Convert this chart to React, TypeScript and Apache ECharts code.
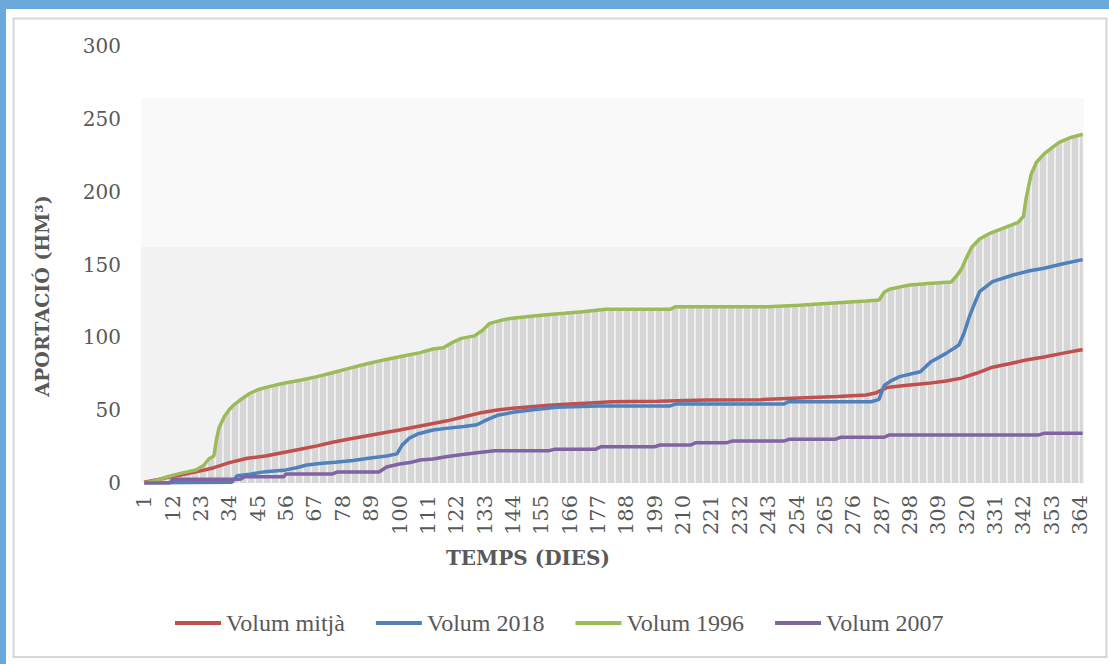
import React, { useEffect, useRef } from 'react';
import * as echarts from 'echarts';

// Category labels: days of the year
const days: string[] = Array.from({ length: 365 }, (_, i) => String(i + 1));

// [day, hm3]
const volumMitja: [number, number][] = [
  [1, 0.5], [8, 3], [15, 5.5], [22, 8], [28, 10.5], [34, 14], [41, 17], [48, 18.5], [55, 21], [61, 23],
  [68, 25.5], [74, 28], [80, 30], [87, 32.3], [94, 34.5], [100, 36.4], [106, 38.5], [112, 40.5], [118, 42.5],
  [125, 45.5], [131, 48], [138, 50.1], [144, 51.3], [151, 52.4], [158, 53.3], [166, 54.2], [174, 55], [182, 55.8],
  [200, 56.2], [219, 57], [240, 57.2], [255, 58.3], [270, 59.3], [281, 60.4], [285, 62], [289, 65.5], [296, 67],
  [305, 68.4], [312, 70], [318, 72], [324, 75.5], [330, 79.5], [337, 82], [343, 84.4], [350, 86.5], [357, 89],
  [364, 91.3], [365, 91.5],
];

const volum2018: [number, number][] = [
  [1, 0], [35, 0.5], [37, 5], [42, 6], [48, 7.8], [56, 9], [60, 10.5], [64, 12.4], [70, 13.5], [75, 14.2],
  [82, 15.5], [88, 17], [95, 18.5], [99, 20], [101, 26], [104, 31], [107, 33.6], [113, 36.4], [118, 37.5],
  [125, 38.8], [130, 40], [134, 43.5], [138, 46.5], [144, 48.5], [151, 50.1], [161, 52], [177, 52.9], [205, 52.9],
  [207, 54.2], [249, 54.2], [251, 55.8], [283, 55.8], [286, 57.4], [288, 67], [291, 70.5], [294, 73], [302, 76.4],
  [306, 83], [312, 89], [317, 94.7], [319, 103], [321, 114], [323, 123], [325, 131.3], [330, 138.2], [338, 142.8],
  [344, 145.5], [350, 147.4], [357, 150.3], [364, 153], [365, 153.2],
];

const volum1996: [number, number][] = [
  [1, 0], [5, 1.5], [10, 4.3], [15, 6.6], [21, 8.9], [24, 12], [26, 16.5], [28, 18.5], [29, 30], [30, 38],
  [32, 45.5], [34, 50.5], [36, 54], [39, 58], [42, 61.6], [45, 64], [49, 66], [55, 68.5], [62, 70.7], [68, 73],
  [74, 75.7], [80, 78.5], [87, 81.7], [94, 84.5], [100, 86.7], [108, 89.5], [113, 92], [117, 92.8], [120, 96],
  [124, 99.3], [129, 101], [132, 104.5], [135, 109.6], [139, 111.5], [143, 113], [150, 114.3], [156, 115.3],
  [164, 116.5], [171, 117.6], [180, 119.2], [205, 119.2], [207, 121], [243, 121], [255, 122], [270, 123.8],
  [281, 125], [286, 125.6], [288, 131], [290, 133], [298, 136], [305, 137], [314, 138], [316, 142], [318, 147],
  [320, 155], [322, 162], [325, 167.5], [329, 171.4], [335, 175.5], [340, 179], [342, 183], [343, 195], [345, 212],
  [347, 220], [350, 226], [353, 230], [356, 234], [360, 237], [365, 239.4],
];

const volum2007: [number, number][] = [
  [1, 0], [11, 0], [12, 2.5], [38, 2.5], [40, 4.3], [55, 4.3], [56, 6.2], [74, 6.2], [76, 7.6], [92, 7.6],
  [95, 11], [100, 13], [104, 14], [108, 15.8], [113, 16.5], [118, 18], [123, 19.2], [130, 20.8], [137, 22.2],
  [158, 22.2], [160, 23.1], [176, 23.1], [178, 24.9], [199, 24.9], [201, 26.1], [213, 26.1], [215, 27.7],
  [227, 27.7], [229, 28.8], [249, 28.8], [251, 30], [269, 30], [271, 31.4], [288, 31.4], [290, 33], [348, 33],
  [350, 34.1], [365, 34.1],
];

const yTicks = { min: 0, max: 300, interval: 50 };
const seriesNames = ['Volum mitjà', 'Volum 2018', 'Volum 1996', 'Volum 2007'];
const seriesColors = ['#c0504d', '#4f81bd', '#9bbb59', '#8064a2'];

const toIdx = (arr: [number, number][]) => arr.map(([d, v]) => [d - 1, v]);

function makeStripe(): HTMLCanvasElement {
  const c = document.createElement('canvas');
  c.width = 8;
  c.height = 8;
  const ctx = c.getContext('2d')!;
  ctx.fillStyle = '#d6d6d6';
  ctx.fillRect(0, 0, 8, 8);
  ctx.fillStyle = '#eeeeee';
  ctx.fillRect(6, 0, 2, 8);
  return c;
}

export default function App() {
  const ref = useRef<HTMLDivElement>(null);
  useEffect(() => {
    if (!ref.current) return;
    const chart = echarts.init(ref.current, undefined, { renderer: 'svg' });
    const font = 'DejaVu Serif';
    const legendFont = 'Liberation Serif';
    const lineSeries = [volumMitja, volum2018, volum1996, volum2007].map((d, i) => ({
      name: seriesNames[i],
      type: 'line',
      data: toIdx(d),
      showSymbol: false,
      symbol: 'none',
      lineStyle: { width: 3.5, color: seriesColors[i] },
      itemStyle: { color: seriesColors[i] },
      z: 3,
    }));
    chart.setOption({
      animation: false,
      backgroundColor: '#ffffff',
      textStyle: { fontFamily: font },
      grid: { left: 143, right: 25, top: 46, bottom: 181, containLabel: false },
      xAxis: {
        type: 'category',
        data: days,
        boundaryGap: true,
        axisLine: { show: false },
        axisTick: { show: false },
        splitLine: { show: false },
        axisLabel: { rotate: 90, interval: 10, margin: 12, color: '#595959', fontSize: 21, fontFamily: font },
      },
      yAxis: {
        type: 'value',
        min: yTicks.min,
        max: yTicks.max,
        interval: yTicks.interval,
        axisLine: { show: false },
        axisTick: { show: false },
        splitLine: { show: false },
        axisLabel: { margin: 22, color: '#595959', fontSize: 20, fontFamily: font },
      },
      legend: {
        data: seriesNames,
        left: 170,
        top: 606,
        icon: 'rect',
        itemWidth: 46,
        itemHeight: 4,
        itemGap: 31,
        textStyle: { color: '#595959', fontSize: 24, fontFamily: legendFont },
      },
      graphic: [
        { type: 'rect', z: -10, shape: { x: 0, y: 0, width: 1109, height: 9 }, style: { fill: '#6aa8dc' } },
        { type: 'rect', z: -10, shape: { x: 0, y: 0, width: 6, height: 664 }, style: { fill: '#6aa8dc' } },
        { type: 'rect', z: -10, shape: { x: 13.5, y: 18.5, width: 1093, height: 638.5 }, style: { fill: 'none', stroke: '#d6d6d6', lineWidth: 2 } },
        { type: 'rect', z: -5, shape: { x: 141, y: 98, width: 943, height: 149 }, style: { fill: '#f9f9f9' } },
        { type: 'rect', z: -5, shape: { x: 141, y: 247, width: 943, height: 236 }, style: { fill: '#f2f2f2' } },
        {
          type: 'text', x: 528, y: 558,
          style: { text: 'TEMPS (DIES)', font: `bold 20px "${font}"`, fill: '#595959', align: 'center', verticalAlign: 'middle' },
        },
        {
          type: 'text', x: 42, y: 296, rotation: Math.PI / 2,
          style: { text: 'APORTACIÓ (HM³)', font: `bold 19px "${font}"`, fill: '#595959', align: 'center', verticalAlign: 'middle' },
        },
      ],
      series: [
        {
          name: 'fons',
          type: 'line',
          data: toIdx(volum1996),
          showSymbol: false,
          symbol: 'none',
          silent: true,
          lineStyle: { opacity: 0 },
          areaStyle: { color: { image: makeStripe(), repeat: 'repeat' }, opacity: 1 },
          z: 1,
        },
        ...lineSeries,
      ],
    });
    return () => chart.dispose();
  }, []);
  return <div ref={ref} style={{ position: 'fixed', left: 0, top: 0, width: 1109, height: 664 }} />;
}
